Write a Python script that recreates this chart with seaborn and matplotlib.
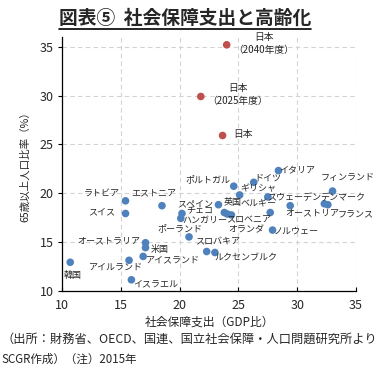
import seaborn as sns
import pandas as pd
import matplotlib.pyplot as plt
from matplotlib.lines import Line2D

# データ（社会保障支出 GDP比 / 65歳以上人口比率）
countries = ['韓国', 'ラトビア', 'スイス', 'エストニア', 'オーストラリア', '米国',
             'アイルランド', 'アイスランド', 'イスラエル', 'チェコ', 'ハンガリー',
             'ポーランド', 'スロバキア', 'ルクセンブルク', 'スペイン', '英国',
             'スロベニア', 'オランダ', 'ポルトガル', 'ドイツ', 'ギリシャ', 'イタリア',
             'フィンランド', 'スウェーデン', 'デンマーク', 'フランス', 'オーストリア',
             'ベルギー', 'ノルウェー']
spending = [10.7, 15.4, 15.4, 18.5, 17.1, 17.1, 15.7, 16.9, 15.9, 20.2, 20.1,
            20.8, 22.3, 23.0, 23.3, 23.8, 24.05, 24.4, 24.6, 26.3, 25.1, 28.4,
            33.0, 27.5, 32.3, 32.6, 29.4, 27.7, 27.9]
aged = [12.9, 19.2, 17.9, 18.7, 14.9, 14.4, 13.1, 13.5, 11.1, 17.9, 17.4,
        15.5, 14.0, 13.9, 18.8, 18.0, 17.85, 17.75, 20.7, 21.1, 19.8, 22.3,
        20.2, 19.6, 18.9, 18.8, 18.7, 18.0, 16.2]

japan_labels = ['日本\n（2040年度）', '日本\n（2025年度）', '日本']
japan_spending = [24.0, 21.8, 23.65]
japan_aged = [35.2, 29.9, 25.9]

# ラベル位置（点からのずれ、ピクセル：右, 下）
label_offsets = [(2.5, 13), (-23.5, -8), (-23.5, -1.5), (-8.5, -12.7), (-36.5, -1.7),
                 (14.5, 1.7), (-13.5, 7.3), (29.8, 3), (24.3, 3.7), (17.3, -2.3),
                 (24.5, 1.7), (-9.5, -8), (10.8, -9.7), (31.5, 5.8), (-23.3, -1.3),
                 (8.2, -9.7), (21.7, 6), (14.5, 14.5), (-25.8, -6.7), (14.5, -4.2),
                 (19, -6.3), (19.2, -1), (15.3, -14), (26.5, 0.5), (18.5, -6.3),
                 (28.2, 9.7), (22, 7.3), (-12, -8.2), (23.8, 1)]
japan_offsets = [(37, -1), (37, -2), (20, -1)]

df = pd.DataFrame({'国': countries, '支出': spending, '高齢化率': aged})
df_jp = pd.DataFrame({'国': japan_labels, '支出': japan_spending, '高齢化率': japan_aged})

sns.set_style('white')
plt.rcParams['font.family'] = ['Noto Sans CJK JP', 'DejaVu Sans']

fig = plt.figure(figsize=(3.78, 3.72), dpi=100)
ax = fig.add_axes([0.164, 0.219, 0.778, 0.6815])

sns.scatterplot(data=df, x='支出', y='高齢化率', color='#4f81bd', s=30,
                edgecolor='none', ax=ax, zorder=3)
sns.scatterplot(data=df_jp, x='支出', y='高齢化率', color='#c0504d', s=30,
                edgecolor='none', ax=ax, zorder=3)

for name, x, y, (dx, dy) in zip(countries, spending, aged, label_offsets):
    ax.annotate(name, (x, y), xytext=(dx, -dy), textcoords='offset pixels',
                ha='center', va='center', fontsize=6.5, zorder=4)
for name, x, y, (dx, dy) in zip(japan_labels, japan_spending, japan_aged, japan_offsets):
    ax.annotate(name, (x, y), xytext=(dx, -dy), textcoords='offset pixels',
                ha='center', va='center', fontsize=7, linespacing=1.4, zorder=4)

ax.set_xlim(10, 35)
ax.set_ylim(10, 36)
ax.set_xticks([10, 15, 20, 25, 30, 35])
ax.set_yticks([10, 15, 20, 25, 30, 35])
ax.grid(True, color='#d3d3d3', linestyle=(0, (4, 3)), linewidth=0.8)
ax.set_axisbelow(True)
for s in ['top', 'right']:
    ax.spines[s].set_visible(False)
for s in ['left', 'bottom']:
    ax.spines[s].set_color('black')
    ax.spines[s].set_linewidth(0.9)
ax.tick_params(axis='x', direction='in', length=3, labelsize=9, pad=6, color='black', bottom=True)
ax.tick_params(axis='y', direction='out', length=3, labelsize=9, pad=3, color='black', left=True)

ax.set_xlabel('社会保障支出（GDP比）', fontsize=8.5, labelpad=3)
ax.set_ylabel('65歳以上人口比率（%）', fontsize=7.6, labelpad=7)

title = fig.text(0.49, 0.952, '図表⑤  社会保障支出と高齢化', ha='center', va='center',
                 fontsize=13.5, fontweight='bold')
fig.text(0.003, 0.087, '（出所：財務省、OECD、国連、国立社会保障・人口問題研究所より',
         ha='left', va='center', fontsize=8.8)
fig.text(0.003, 0.035, 'SCGR作成）（注）2015年', ha='left', va='center', fontsize=8.3)

# タイトルの下線
fig.canvas.draw()
bb = title.get_window_extent().transformed(fig.transFigure.inverted())
fig.add_artist(Line2D([bb.x0, bb.x1], [bb.y0 - 0.004, bb.y0 - 0.004],
                      color='black', linewidth=1.2, transform=fig.transFigure))

plt.savefig('out.png', dpi=100)
